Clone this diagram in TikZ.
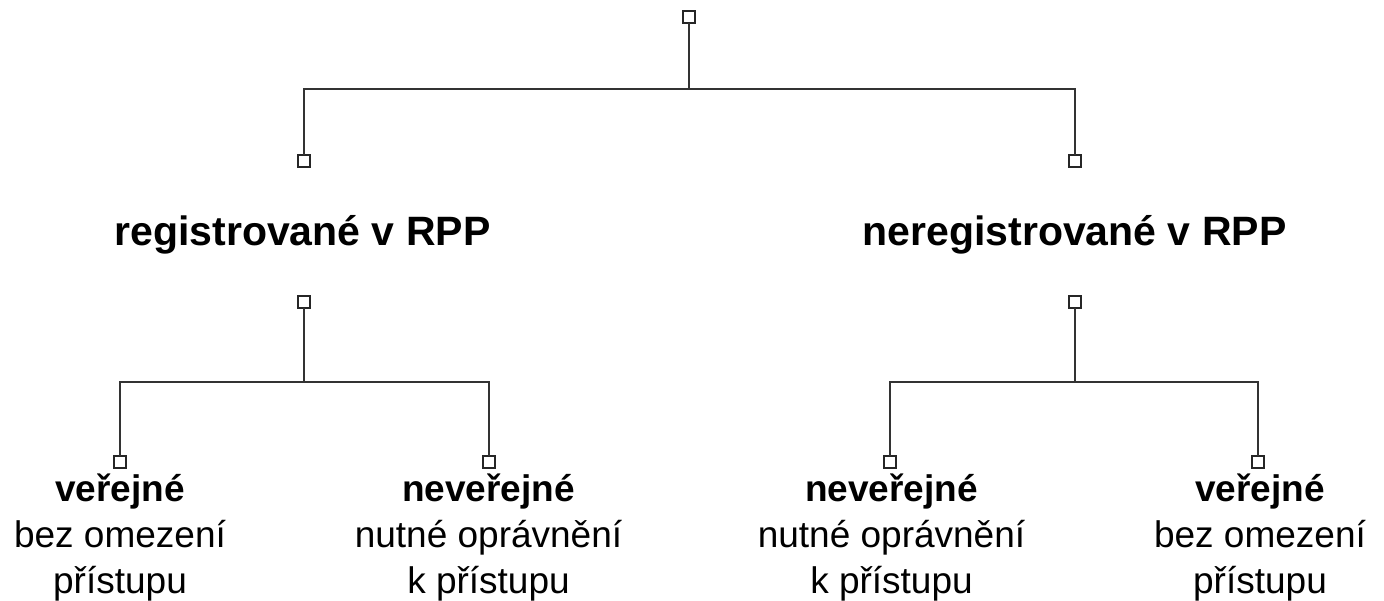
\documentclass[tikz,border=0pt]{standalone}
\usepackage{fontspec}
\setmainfont{Liberation Sans}
\begin{document}
\begin{tikzpicture}[x=1pt,y=-1pt,
  conn/.style={draw=black!80, line width=2pt},
  pin/.style={draw=black!85, fill=white, line width=2pt, minimum size=12pt, inner sep=0pt, outer sep=0pt},
  heading/.style={font=\fontsize{41}{48}\selectfont\bfseries, inner sep=0pt, anchor=base},
  leaf/.style={font=\fontsize{37}{46}\selectfont, align=center, inner sep=0pt, anchor=base}
]
\useasboundingbox[fill=white] (0,0) rectangle (1384,601);

% connector pins
\node[pin] (t)  at (689,17) {};
\node[pin] (r1) at (304,161) {};
\node[pin] (n1) at (1075,161) {};
\node[pin] (r2) at (304,302) {};
\node[pin] (n2) at (1075,302) {};
\node[pin] (a1) at (120,462) {};
\node[pin] (a2) at (489,462) {};
\node[pin] (b1) at (890,462) {};
\node[pin] (b2) at (1258,462) {};

% junctions
\coordinate (j0) at (689,89);
\coordinate (j1) at (304,382);
\coordinate (j2) at (1075,382);

% connectors
\draw[conn] (t.south) -- (j0);
\draw[conn] (r1.north) |- (j0) -| (n1.north);
\draw[conn] (r2.south) -- (j1);
\draw[conn] (a1.north) |- (j1) -| (a2.north);
\draw[conn] (n2.south) -- (j2);
\draw[conn] (b1.north) |- (j2) -| (b2.north);

% headings
\node[heading] (hr) at (302.5,246) {registrované v RPP};
\node[heading] (hn) at (1074.5,246) {neregistrované v RPP};

% leaves (anchor = baseline of last line)
\node[leaf] (la1) at (120,593) {\textbf{veřejné}\\bez omezení\\přístupu};
\node[leaf] (la2) at (488.5,593) {\textbf{neveřejné}\\nutné oprávnění\\k přístupu};
\node[leaf] (lb1) at (891.5,593) {\textbf{neveřejné}\\nutné oprávnění\\k přístupu};
\node[leaf] (lb2) at (1260,593) {\textbf{veřejné}\\bez omezení\\přístupu};
\end{tikzpicture}
\end{document}
